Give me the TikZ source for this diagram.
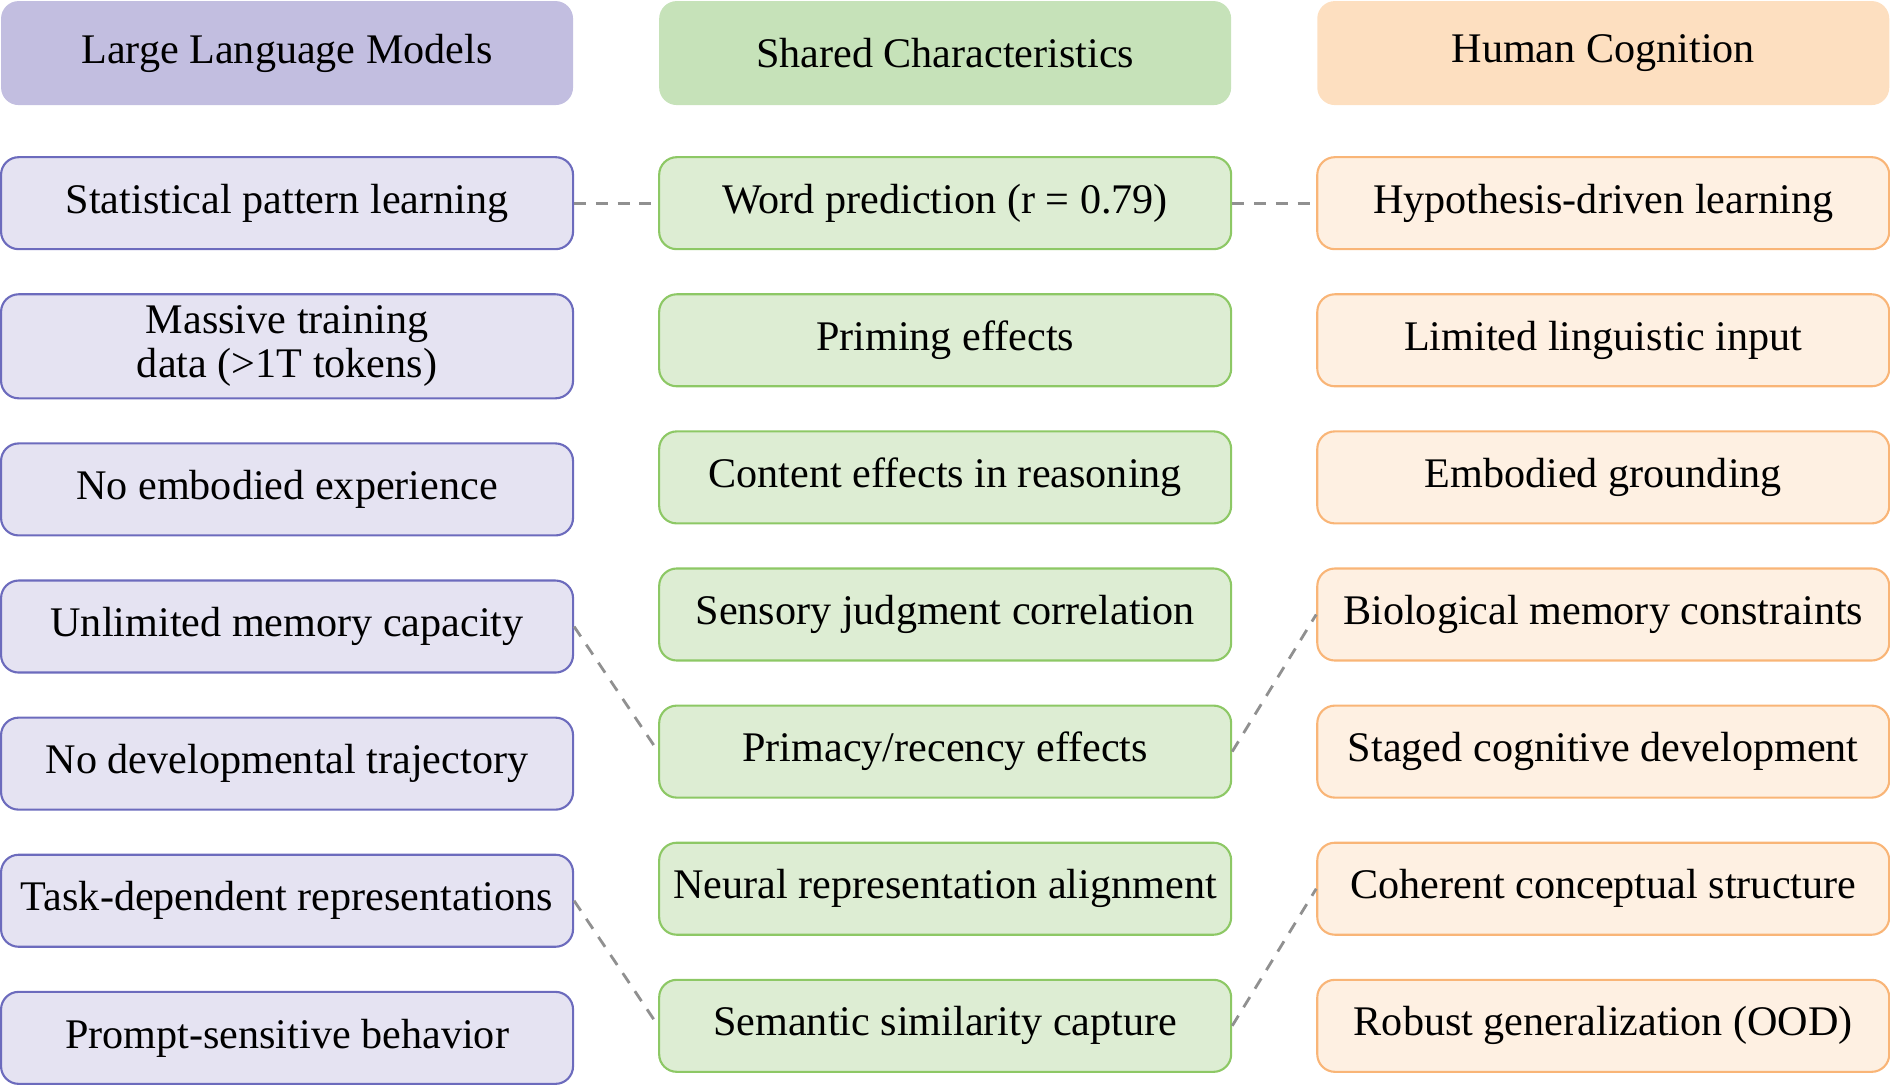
\documentclass[tikz,border=0pt]{standalone}
\usepackage{fontspec}
\setmainfont{Liberation Serif}
\usetikzlibrary{positioning}
\definecolor{llmhead}{HTML}{C2BEE0}
\definecolor{llmfill}{HTML}{E5E3F2}
\definecolor{llmdraw}{HTML}{6C6BBD}
\definecolor{shhead}{HTML}{C6E2B9}
\definecolor{shfill}{HTML}{DDEDD3}
\definecolor{shdraw}{HTML}{8DC865}
\definecolor{humhead}{HTML}{FDDFC0}
\definecolor{humfill}{HTML}{FEF0E2}
\definecolor{humdraw}{HTML}{F9B577}
\definecolor{linkgrey}{HTML}{909090}

\begin{document}
\begin{tikzpicture}[
  node distance=0.43cm and 0.84cm,
  every node/.style={font=\fontsize{12}{12.5}\selectfont},
  block/.style={rectangle,rounded corners=5pt,line width=0.6pt,
                minimum width=5.72cm,minimum height=0.92cm,align=center,
                inner sep=3.3pt},
  headblock/.style={block,minimum height=1.04cm},
  llmhd/.style={headblock,fill=llmhead},
  shhd/.style={headblock,fill=shhead},
  humhd/.style={headblock,fill=humhead},
  llmblock/.style={block,draw=llmdraw,fill=llmfill},
  shblock/.style={block,draw=shdraw,fill=shfill},
  humblock/.style={block,draw=humdraw,fill=humfill},
  link/.style={draw=linkgrey,line width=0.8pt,dash pattern=on 3.4pt off 2.8pt}
]
\useasboundingbox (0,0) rectangle (18.9,-10.87);

%% ---- headers ----
\node[llmhd,anchor=north west] (llmh) at (0,0) {Large Language Models};
\node[shhd,right=of llmh] (shh) {Shared Characteristics};
\node[humhd,right=of shh] (humh) {Human Cognition};

%% ---- LLM column ----
\node[llmblock,below=0.50cm of llmh] (llm1) {Statistical pattern learning};
\node[llmblock,below=of llm1] (llm2) {Massive training\\ data (>1T tokens)};
\node[llmblock,below=of llm2] (llm3) {No embodied experience};
\node[llmblock,below=of llm3] (llm4) {Unlimited memory capacity};
\node[llmblock,below=of llm4] (llm5) {No developmental trajectory};
\node[llmblock,below=of llm5] (llm6) {Task-dependent representations};
\node[llmblock,below=of llm6] (llm7) {Prompt-sensitive behavior};

%% ---- shared column ----
\node[shblock,below=0.50cm of shh] (sh1) {Word prediction (r = 0.79)};
\node[shblock,below=of sh1] (sh2) {Priming effects};
\node[shblock,below=of sh2] (sh3) {Content effects in reasoning};
\node[shblock,below=of sh3] (sh4) {Sensory judgment correlation};
\node[shblock,below=of sh4] (sh5) {Primacy/recency effects};
\node[shblock,below=of sh5] (sh6) {Neural representation alignment};
\node[shblock,below=of sh6] (sh7) {Semantic similarity capture};

%% ---- human column ----
\node[humblock,below=0.50cm of humh] (hum1) {Hypothesis-driven learning};
\node[humblock,below=of hum1] (hum2) {Limited linguistic input};
\node[humblock,below=of hum2] (hum3) {Embodied grounding};
\node[humblock,below=of hum3] (hum4) {Biological memory constraints};
\node[humblock,below=of hum4] (hum5) {Staged cognitive development};
\node[humblock,below=of hum5] (hum6) {Coherent conceptual structure};
\node[humblock,below=of hum6] (hum7) {Robust generalization (OOD)};

%% ---- links ----
\draw[link] (llm1.east) -- (sh1.west);
\draw[link] (sh1.east) -- (hum1.west);
\draw[link] (llm4.east) -- (sh5.west);
\draw[link] (sh5.east) -- (hum4.west);
\draw[link] (llm6.east) -- (sh7.west);
\draw[link] (sh7.east) -- (hum6.west);

\end{tikzpicture}
\end{document}
